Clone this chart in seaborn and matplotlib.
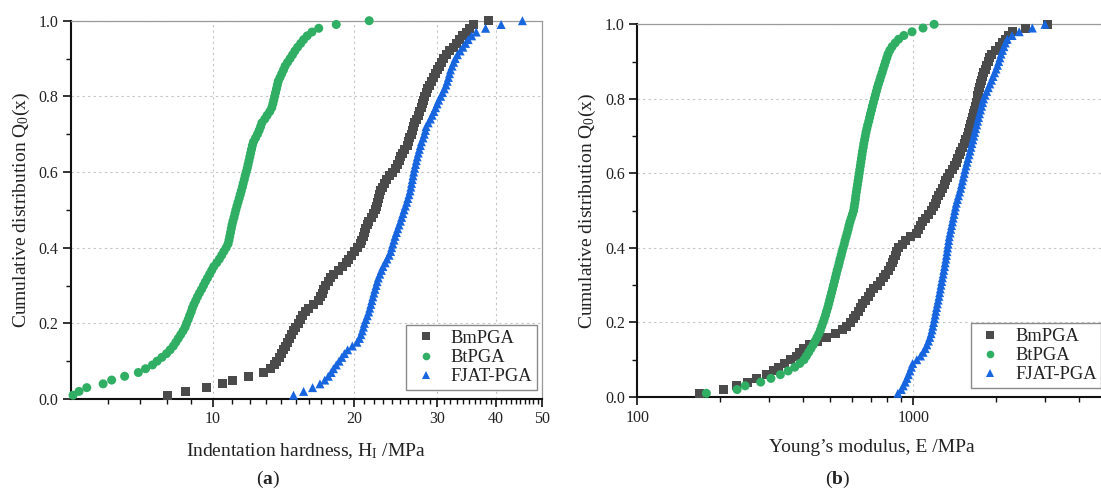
import numpy as np
import pandas as pd
import matplotlib
matplotlib.use("Agg")
import matplotlib.pyplot as plt
import matplotlib.ticker as mticker
import seaborn as sns

# ---- sample values (sorted) for each strain -------------------------------
strains = ["BmPGA", "BtPGA", "FJAT-PGA"]
colors = ["#4b4b4b", "#2fae64", "#1766e0"]
markers = ["s", "o", "^"]

# Indentation hardness H_I (MPa)
hardness_bm = [
    8.0, 8.75, 9.7, 10.5, 11.0, 11.9, 12.8, 13.3, 13.5, 13.68,
    13.85, 14.0, 14.15, 14.28, 14.42, 14.56, 14.7, 14.85, 15.0, 15.18,
    15.35, 15.52, 15.75, 16.0, 16.35, 16.75, 16.92, 17.07, 17.22, 17.35,
    17.58, 17.8, 18.1, 18.5, 18.85, 19.2, 19.45, 19.72, 19.98, 20.3,
    20.6, 20.75, 20.9, 21.02, 21.15, 21.3, 21.45, 21.7, 22.0, 22.15,
    22.3, 22.42, 22.54, 22.66, 22.77, 22.95, 23.2, 23.4, 23.8, 24.15,
    24.4, 24.65, 24.88, 25.1, 25.35, 25.6, 25.88, 26.1, 26.25, 26.4,
    26.55, 26.7, 26.9, 27.1, 27.35, 27.55, 27.72, 27.88, 28.05, 28.2,
    28.43, 28.66, 28.9, 29.18, 29.45, 29.72, 30.0, 30.35, 30.65, 31.0,
    31.4, 31.9, 32.4, 32.9, 33.4, 34.0, 34.6, 35.2, 35.9, 38.6,
]
hardness_bt = [
    5.05, 5.2, 5.4, 5.85, 6.1, 6.5, 6.95, 7.2, 7.45, 7.62,
    7.8, 7.98, 8.12, 8.25, 8.35, 8.45, 8.55, 8.65, 8.74, 8.8,
    8.87, 8.93, 9.0, 9.05, 9.12, 9.2, 9.28, 9.37, 9.47, 9.56,
    9.65, 9.75, 9.85, 9.95, 10.05, 10.2, 10.33, 10.45, 10.56, 10.68,
    10.78, 10.83, 10.87, 10.91, 10.95, 10.99, 11.04, 11.1, 11.15, 11.2,
    11.26, 11.32, 11.38, 11.44, 11.5, 11.56, 11.61, 11.67, 11.72, 11.78,
    11.84, 11.89, 11.94, 11.99, 12.04, 12.09, 12.14, 12.21, 12.33, 12.45,
    12.55, 12.64, 12.72, 12.9, 13.05, 13.22, 13.35, 13.42, 13.48, 13.54,
    13.6, 13.66, 13.72, 13.78, 13.9, 14.02, 14.14, 14.25, 14.42, 14.6,
    14.78, 14.95, 15.15, 15.38, 15.6, 15.88, 16.25, 16.8, 18.3, 21.5,
]
hardness_fjat = [
    14.85, 15.6, 16.3, 16.9, 17.3, 17.6, 17.85, 18.05, 18.3, 18.55,
    18.8, 19.05, 19.35, 19.8, 20.25, 20.5, 20.65, 20.78, 20.9, 21.0,
    21.15, 21.3, 21.45, 21.56, 21.67, 21.78, 21.89, 22.0, 22.12, 22.24,
    22.35, 22.48, 22.65, 22.82, 23.0, 23.25, 23.45, 23.7, 23.88, 24.0,
    24.13, 24.27, 24.4, 24.56, 24.72, 24.88, 25.05, 25.2, 25.35, 25.5,
    25.66, 25.83, 25.97, 26.12, 26.26, 26.36, 26.45, 26.55, 26.64, 26.73,
    26.85, 26.97, 27.08, 27.2, 27.34, 27.48, 27.62, 27.76, 27.98, 28.15,
    28.3, 28.4, 28.7, 29.0, 29.25, 29.5, 29.75, 29.98, 30.2, 30.5,
    30.78, 31.05, 31.3, 31.5, 31.68, 31.85, 32.0, 32.25, 32.5, 32.75,
    33.1, 33.55, 34.0, 34.45, 34.9, 35.5, 36.3, 38.0, 41.0, 45.5,
]

# Young's modulus E (MPa)
modulus_bm = [
    168, 205, 228, 250, 270, 295, 312, 326, 342, 360,
    376, 388, 400, 422, 448, 485, 522, 552, 572, 590,
    606, 620, 633, 645, 656, 670, 686, 701, 718, 740,
    762, 778, 795, 810, 825, 838, 849, 859, 868, 885,
    912, 938, 980, 1028, 1045, 1062, 1076, 1105, 1135, 1165,
    1183, 1200, 1218, 1238, 1260, 1280, 1296, 1313, 1328, 1355,
    1385, 1412, 1430, 1448, 1467, 1486, 1507, 1528, 1548, 1567,
    1584, 1596, 1610, 1622, 1636, 1650, 1663, 1676, 1689, 1702,
    1715, 1728, 1743, 1758, 1773, 1788, 1804, 1825, 1846, 1868,
    1890, 1920, 1990, 2050, 2100, 2150, 2205, 2280, 2550, 3070,
]
modulus_bt = [
    178, 230, 246, 280, 305, 330, 352, 372, 388, 402,
    410, 418, 426, 434, 441, 448, 455, 461, 466, 471,
    476, 481, 485, 490, 494, 498, 502, 506, 510, 514,
    518, 522, 526, 530, 535, 539, 543, 548, 552, 557,
    562, 566, 571, 576, 581, 585, 590, 596, 602, 608,
    611, 614, 617, 619, 622, 625, 628, 631, 634, 637,
    640, 643, 646, 649, 652, 655, 659, 662, 666, 670,
    674, 679, 684, 690, 695, 700, 706, 711, 717, 723,
    729, 735, 741, 748, 756, 763, 771, 778, 786, 794,
    802, 810, 822, 838, 860, 885, 925, 990, 1085, 1190,
]
modulus_fjat = [
    880, 905, 920, 935, 948, 960, 972, 984, 995, 1030,
    1062, 1085, 1105, 1120, 1135, 1148, 1160, 1169, 1177, 1185,
    1193, 1200, 1207, 1215, 1223, 1231, 1239, 1246, 1253, 1260,
    1268, 1275, 1283, 1290, 1298, 1305, 1312, 1319, 1325, 1331,
    1338, 1344, 1350, 1359, 1368, 1377, 1386, 1395, 1404, 1413,
    1422, 1432, 1445, 1458, 1471, 1485, 1496, 1507, 1518, 1529,
    1540, 1552, 1565, 1578, 1592, 1605, 1618, 1631, 1644, 1657,
    1670, 1683, 1697, 1710, 1724, 1738, 1753, 1768, 1783, 1798,
    1820, 1845, 1870, 1895, 1920, 1945, 1970, 1995, 2018, 2040,
    2060, 2080, 2105, 2130, 2155, 2190, 2280, 2420, 2700, 3000,
]

hardness_ticks = [10, 20, 30, 40, 50]
modulus_ticks = [100, 1000]
y_ticks = [0.0, 0.2, 0.4, 0.6, 0.8, 1.0]


def cumulative_frame(samples, column):
    parts = [pd.DataFrame({column: vals, "strain": name})
             for name, vals in zip(strains, samples)]
    df = pd.concat(parts, ignore_index=True)
    df["Q"] = df.groupby("strain")[column].rank(method="first", pct=True)
    return df


df_h = cumulative_frame([hardness_bm, hardness_bt, hardness_fjat], "H")
df_e = cumulative_frame([modulus_bm, modulus_bt, modulus_fjat], "E")

# ---- style -----------------------------------------------------------------
sns.set_theme(style="white")
serif = ["Liberation Serif", "DejaVu Serif"]
plt.rcParams["font.family"] = serif
plt.rcParams["mathtext.fontset"] = "custom"
plt.rcParams["mathtext.rm"] = "Liberation Serif"
plt.rcParams["mathtext.it"] = "Liberation Serif:italic"
plt.rcParams["mathtext.bf"] = "Liberation Serif:bold"

fig = plt.figure(figsize=(11.01, 4.93), dpi=100)
fig.patch.set_facecolor("white")
ax1 = fig.add_axes([0.0645, 0.1907, 0.4275, 0.7673])
ax2 = fig.add_axes([0.5788, 0.1947, 0.4259, 0.7560])

palette = dict(zip(strains, colors))
marker_map = dict(zip(strains, markers))


def draw(ax, df, col):
    sns.scatterplot(data=df, x=col, y="Q", hue="strain", style="strain",
                    hue_order=strains, style_order=strains,
                    palette=palette, markers=marker_map, s=42,
                    linewidth=0, edgecolor="none", clip_on=False,
                    legend=True, ax=ax, zorder=3)
    ax.set_xscale("log")
    ax.set_ylim(0, 1)
    ax.yaxis.set_major_locator(mticker.FixedLocator(y_ticks))
    ax.yaxis.set_major_formatter(mticker.FormatStrFormatter("%.1f"))
    ax.yaxis.set_minor_locator(mticker.MultipleLocator(0.1))

    for side in ("left", "bottom"):
        ax.spines[side].set_color("#111111")
        ax.spines[side].set_linewidth(1.5)
    for side in ("top", "right"):
        ax.spines[side].set_color("#9a9a9a")
        ax.spines[side].set_linewidth(0.9)

    ax.tick_params(which="major", direction="out", length=6, width=1.2,
                   color="#111111", labelsize=11.5, labelcolor="#222222",
                   pad=3, bottom=True, left=True, top=False, right=False)
    ax.tick_params(which="minor", direction="out", length=3.5, width=1.0,
                   color="#111111", bottom=True, left=True,
                   top=False, right=False)
    ax.grid(True, which="major", color="#c4c4c4", linestyle=(0, (2, 3)),
            linewidth=0.8, zorder=0)
    ax.set_axisbelow(True)

    ax.set_ylabel(r"Cumulative distribution Q$_\mathrm{0}$(x)",
                  fontsize=14, color="#222222", labelpad=5)

    old = ax.get_legend()
    handles = old.legend_handles
    labels = [t.get_text() for t in old.get_texts()]
    old.remove()
    leg = ax.legend(handles, labels, loc="lower right",
                    bbox_to_anchor=(0.99, 0.024), borderaxespad=0,
                    fontsize=13.3, frameon=True, fancybox=False,
                    edgecolor="#8a8a8a", framealpha=1, handletextpad=0.55,
                    labelspacing=0.12, borderpad=0.25, markerscale=0.85,
                    handlelength=1.6)
    leg.get_frame().set_linewidth(1.0)
    for t in leg.get_texts():
        t.set_color("#222222")


draw(ax1, df_h, "H")
ax1.set_xlim(5, 50)
ax1.xaxis.set_major_locator(mticker.FixedLocator(hardness_ticks))
ax1.xaxis.set_major_formatter(mticker.FixedFormatter([str(v) for v in hardness_ticks]))
minor_h = [v for v in range(6, 50) if v % 10 != 0]
ax1.xaxis.set_minor_locator(mticker.FixedLocator(minor_h))
ax1.xaxis.set_minor_formatter(mticker.NullFormatter())
ax1.set_xlabel(r"Indentation hardness, H$_\mathrm{I}$ /MPa",
               fontsize=14, color="#222222", labelpad=10)

draw(ax2, df_e, "E")
ax2.set_xlim(100, 5000)
ax2.xaxis.set_major_locator(mticker.FixedLocator(modulus_ticks))
ax2.xaxis.set_major_formatter(mticker.FixedFormatter([str(v) for v in modulus_ticks]))
ax2.xaxis.set_minor_locator(mticker.LogLocator(base=10, subs=np.arange(2, 10)))
ax2.xaxis.set_minor_formatter(mticker.NullFormatter())
ax2.set_xlabel("Young\u2019s modulus, E /MPa",
               fontsize=14, color="#222222", labelpad=10)

fig.text(0.2434, 0.027, r"($\mathbf{a}$)", ha="center", va="center",
         fontsize=14, color="#222222")
fig.text(0.7611, 0.027, r"($\mathbf{b}$)", ha="center", va="center",
         fontsize=14, color="#222222")

fig.savefig("out.png", dpi=100, facecolor="white")
